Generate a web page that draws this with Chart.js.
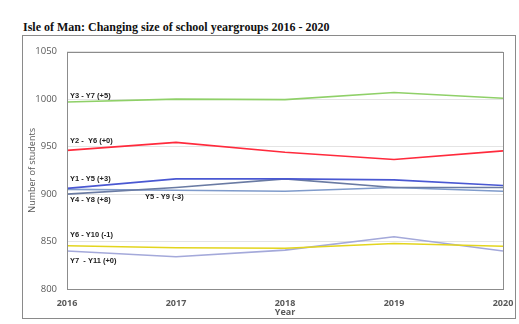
<!DOCTYPE html>
<html>
<head>
<meta charset="utf-8">
<script src="https://cdn.jsdelivr.net/npm/chart.js@4"></script>
<style>
  body { margin: 0; background: #fff; width: 519px; height: 324px; position: relative; overflow: hidden; }
  #title { position: absolute; left: 23px; top: 20px; font: bold 12px "Liberation Serif", serif; color: #111; white-space: nowrap; }
  #frame { position: absolute; left: 22px; top: 35px; width: 492px; height: 282px; border: 1px solid #8a8a8a; }
  #frame canvas { display: block; }
</style>
</head>
<body>
<div id="title">Isle of Man: Changing size of school yeargroups 2016 - 2020</div>
<div id="frame"><canvas id="myChart" width="492" height="282"></canvas></div>
<script>
// years on the x axis
let years = ["2016", "2017", "2018", "2019", "2020"];
let yTicks = [800, 850, 900, 950, 1000, 1050];

// cohort sizes
let y3y7 = [997, 1000, 999.5, 1007, 1001];
let y2y6 = [946, 954.5, 944, 936.5, 945.5];
let y1y5 = [906, 916, 916, 915, 909];
let y4y8 = [900, 907, 916, 907, 907];
let y5y9 = [905, 904, 903, 907, 903];
let y6y10 = [845.5, 843.5, 843, 848, 845];
let y7y11 = [840, 834, 841, 855, 840];

let seriesNames = ["Y3 - Y7 (+5)", "Y2 -  Y6 (+0)", "Y1 - Y5 (+3)", "Y4 - Y8 (+8)", "Y5 - Y9 (-3)", "Y6 - Y10 (-1)", "Y7  - Y11 (+0)"];

// where each line label sits: x in px from the left of the plot, y offset from the first point
var labelSpots = [
    {dx: 3, dy: -6},
    {dx: 3, dy: -9},
    {dx: 3, dy: -9},
    {dx: 3, dy: 6},
    {dx: 78, dy: 8},
    {dx: 3, dy: -11},
    {dx: 3, dy: 10}
];

var plotBox = {
    id: "plotBox",
    afterDraw(chart) {
        var ctx = chart.ctx;
        var a = chart.chartArea;
        ctx.save();
        ctx.strokeStyle = "#8c8c8c";
        ctx.lineWidth = 1;
        ctx.strokeRect(Math.round(a.left) + 0.5, Math.round(a.top) + 0.5, Math.round(a.right - a.left), Math.round(a.bottom - a.top));
        ctx.font = "bold 7.5px 'Liberation Sans', Arial, sans-serif";
        ctx.fillStyle = "#222";
        ctx.textBaseline = "middle";
        var ys = chart.scales.y;
        chart.data.datasets.forEach(function (ds, i) {
            var s = labelSpots[i];
            ctx.fillText(seriesNames[i], a.left + s.dx, ys.getPixelForValue(ds.data[0]) + s.dy);
        });
        ctx.restore();
    }
};

function line(data, color) {
    return {
        data: data,
        borderColor: color,
        backgroundColor: "transparent",
        borderWidth: 1.6,
        pointRadius: 0,
        tension: 0
    };
}

var ctx = document.getElementById("myChart").getContext("2d");
var chart = new Chart(ctx, {
    type: "line",
    data: {
        labels: years,
        datasets: [
            line(y3y7, "#8fd068"),
            line(y2y6, "#ff2a3c"),
            line(y1y5, "#4a58d2"),
            line(y4y8, "#6a7ba3"),
            line(y5y9, "#7f9bcb"),
            line(y6y10, "#e3d51e"),
            line(y7y11, "#a4a9da")
        ]
    },
    options: {
        responsive: false,
        animation: false,
        layout: { padding: { left: 4, right: 12, top: 14, bottom: 0 } },
        plugins: {
            legend: { display: false },
            tooltip: { enabled: false }
        },
        scales: {
            x: {
                offset: false,
                grid: { display: false },
                border: { display: false },
                afterFit: function (scale) { scale.height = 29; },
                ticks: { color: "#595959", font: { family: "'Open Sans', sans-serif", size: 9, weight: "bold" }, padding: 1, maxRotation: 0 },
                title: { display: true, text: "Year", color: "#595959", font: { family: "'Open Sans', sans-serif", size: 9, weight: "bold" }, padding: 0 }
            },
            y: {
                min: 800,
                max: 1050,
                afterBuildTicks: function (scale) {
                    scale.ticks = yTicks.map(v => ({ value: v }));
                },
                afterFit: function (scale) { scale.width = 40; },
                grid: { color: "#e4e4e4", drawTicks: false },
                border: { display: false },
                ticks: { color: "#595959", font: { family: "'Open Sans', sans-serif", size: 9.5 }, padding: 10, callback: v => String(v) },
                title: { display: true, text: "Number of students", color: "#595959", font: { family: "'Open Sans', sans-serif", size: 9 }, padding: 0 }
            }
        }
    },
    plugins: [plotBox]
});
</script>
</body>
</html>
